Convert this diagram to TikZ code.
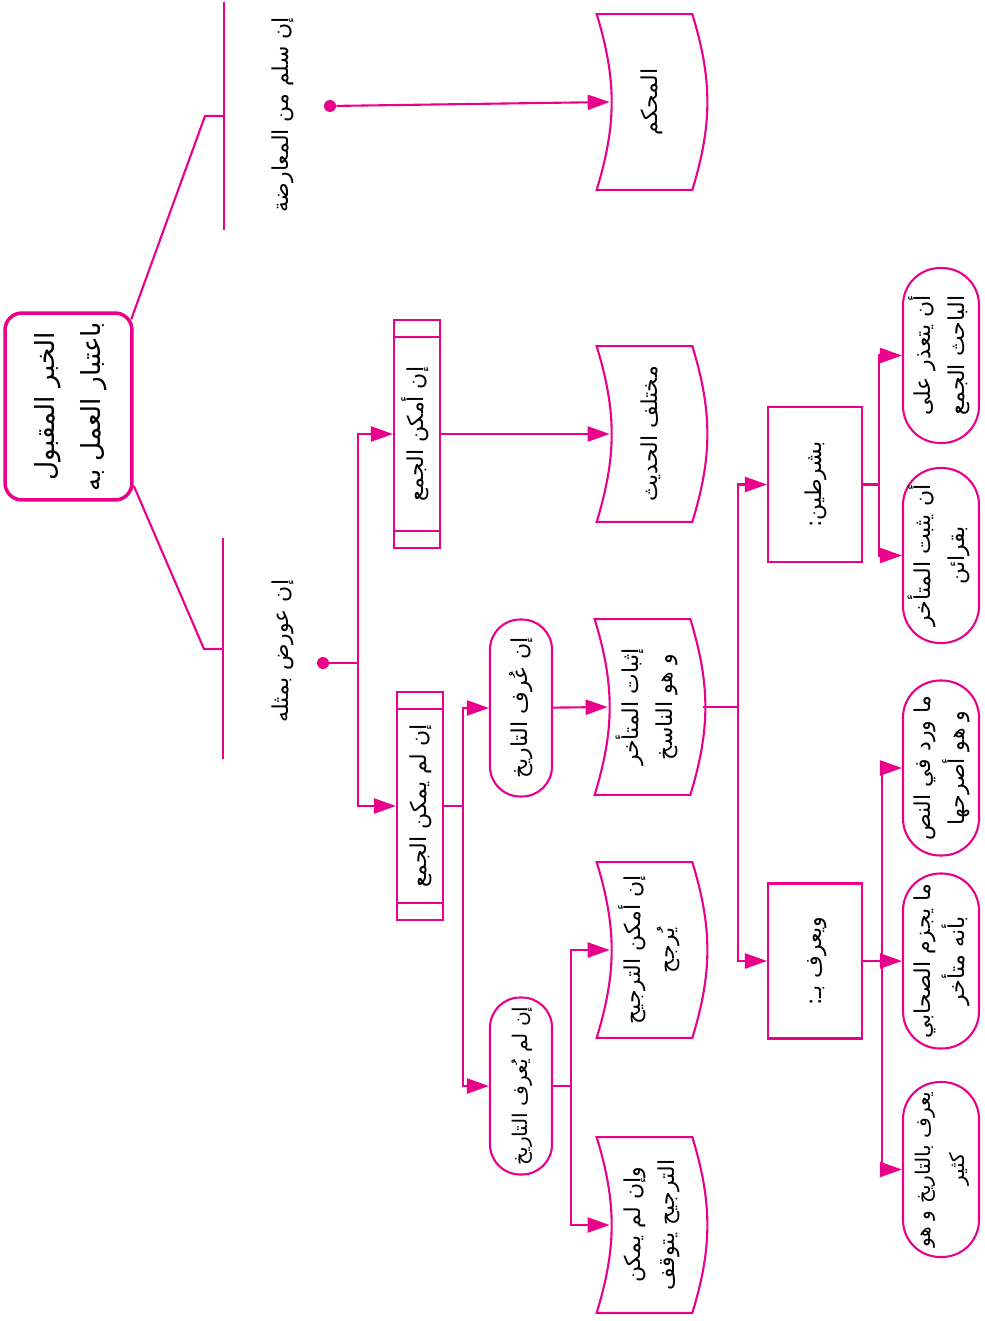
\documentclass[tikz,border=0pt]{standalone}
\usepackage{fontspec}
\usepackage{graphicx}
\newfontfamily\arabicfont[Script=Arabic]{DejaVu Sans}
\TeXXeTstate=1
\usetikzlibrary{arrows.meta}
\definecolor{mag}{RGB}{233,0,139}
\newcommand{\rl}[1]{\beginR #1\endR}
\newcommand{\vtext}[1]{\rotatebox{90}{\begin{tabular}{@{}c@{}}#1\end{tabular}}}
\tikzset{
	conn/.style={draw=mag, line width=1.2pt},
	rootbox/.style={draw=mag, line width=2pt, rounded corners=0.34cm, minimum width=2.54cm, minimum height=3.74cm, inner sep=0pt, font=\arabicfont\fontsize{15}{26}\selectfont},
	procbox/.style={draw=mag, line width=1.2pt, minimum width=0.92cm, minimum height=4.56cm, inner sep=0pt},
	tapebox/.style={minimum width=1.9cm, minimum height=3.5cm, inner sep=0pt},
	pill/.style={draw=mag, line width=1.2pt, minimum width=1.24cm, minimum height=3.54cm, rounded corners=0.6cm, inner sep=0pt},
	widepill/.style={draw=mag, line width=1.2pt, minimum width=1.52cm, minimum height=3.5cm, rounded corners=0.74cm, inner sep=0pt},
	plainbox/.style={draw=mag, line width=1.2pt, minimum width=1.88cm, minimum height=3.1cm, inner sep=0pt},
	joint/.style={circle, fill=mag, inner sep=0pt, minimum size=0.24cm},
	snug/.style={font=\arabicfont\fontsize{11.5}{19}\selectfont}
}
\begin{document}
\begin{tikzpicture}[x=0.02cm, y=-0.02cm, >={Triangle[length=0.44cm, width=0.3cm]}, every node/.style={font=\arabicfont\fontsize{12.5}{19}\selectfont}]
	\useasboundingbox (0,0) rectangle (984,1321);

	% --- root ---
	\node[rootbox] (root) at (68.5,406.5) {\vtext{\rl{الخبر المقبول}\\\rl{باعتبار العمل به}}};

	\coordinate (kneeA) at (205,116);
	\coordinate (barA) at (224,116);
	\coordinate (barAn) at (224,2);
	\coordinate (barAs) at (224,230);
	\coordinate (kneeB) at (204,649);
	\coordinate (barB) at (223,649);
	\coordinate (barBn) at (223,538);
	\coordinate (barBs) at (223,759);

	\draw[conn] ([shift={(-0.05cm,-0.16cm)}]root.north east) -- (kneeA) -- (barA);
	\draw[conn] (barAn) -- (barAs);
	\draw[conn] ([yshift=0.32cm]root.south east) -- (kneeB) -- (barB);
	\draw[conn] (barBn) -- (barBs);

	% --- first branch ---
	\node (safe) at (282,115) {\vtext{\rl{إن سلم من المعارضة}}};
	\node[joint] (dotA) at (330,106) {};
	\node[tapebox] (mhk) at (651,102) {\vtext{\rl{المحكم}}};
	\draw[conn,->] (dotA) -- ([xshift=0.13cm]mhk.west);

	% --- second branch ---
	\node (opp) at (282,651) {\vtext{\rl{إن عورض بمثله}}};
	\node[joint] (dotB) at (323,663) {};
	\coordinate (busA) at (358,663);
	\node[procbox] (mj) at (417,434) {\vtext{\rl{إن أمكن الجمع}}};
	\node[procbox] (nmj) at (420,806) {\vtext{\rl{إن لم يمكن الجمع}}};
	\draw[conn] (dotB) -- (busA);
	\draw[conn,->] (busA) |- (mj);
	\draw[conn,->] (busA) |- (nmj);

	\node[tapebox] (mkh) at (651,434) {\vtext{\rl{مختلف الحديث}}};
	\draw[conn,->] (mj) -- ([xshift=0.13cm]mkh.west);

	\node[pill] (arf) at (521,708) {\vtext{\rl{إن عُرف التاريخ}}};
	\node[pill, snug] (narf) at (521,1086) {\vtext{\rl{إن لم يُعرف التاريخ}}};
	\coordinate (busB) at (463,806);
	\draw[conn] (nmj) -- (busB);
	\draw[conn,->] (busB) |- (arf);
	\draw[conn,->] (busB) |- (narf);

	\node[tapebox] (ithbat) at (649,707) {\vtext{\rl{إثبات المتأخر}\\\rl{و هو الناسخ}}};
	\draw[conn,->] (arf) -- ([xshift=0.13cm]ithbat.west);

	\node[tapebox] (trj) at (651,950) {\vtext{\rl{إن أمكن الترجيح}\\\rl{يُرجح}}};
	\node[tapebox] (halt) at (651,1225) {\vtext{\rl{وإن لم يمكن}\\\rl{الترجيح يتوقف}}};
	\coordinate (busC) at (571,1086);
	\draw[conn] (narf) -- (busC);
	\draw[conn,->] (busC) |- ([xshift=0.13cm]trj.west);
	\draw[conn,->] (busC) |- ([xshift=0.13cm]halt.west);

	% --- conditions ---
	\node[plainbox] (shart) at (815,484.5) {\vtext{\rl{بشرطين:}}};
	\node[plainbox] (yuraf) at (815,961) {\vtext{\rl{ويعرف بـ:}}};
	\coordinate (busD) at (738,707);
	\draw[conn] ([xshift=0.13cm]ithbat.east) -- (busD);
	\draw[conn,->] (busD) |- (shart);
	\draw[conn,->] (busD) |- (yuraf);

	\node[widepill] (cA) at (941,355.5) {\vtext{\rl{أن يتعذر على}\\\rl{الباحث الجمع}}};
	\node[widepill] (cB) at (941,555.5) {\vtext{\rl{أن يثبت المتأخر}\\\rl{بقرائن}}};
	\coordinate (busE) at (879,484.5);
	\draw[conn] (shart) -- (busE);
	\draw[conn,->] (busE) |- (cA);
	\draw[conn,->] (busE) |- (cB);

	\node[widepill] (wA) at (941,768) {\vtext{\rl{ما ورد في النص}\\\rl{و هو أصرحها}}};
	\node[widepill] (wB) at (941,961) {\vtext{\rl{ما يجزم الصحابي}\\\rl{بأنه متأخر}}};
	\node[widepill, snug] (wC) at (941,1169.5) {\vtext{\rl{يعرف بالتاريخ و هو}\\\rl{كثير}}};
	\coordinate (busF) at (882,961);
	\draw[conn] (yuraf) -- (busF);
	\draw[conn,->] (busF) |- (wA);
	\draw[conn,->] (busF) -- (wB);
	\draw[conn,->] (busF) |- (wC);

	% --- outlines ---
	\foreach \n in {mj, nmj} {
		\draw[conn] ([yshift=-0.36cm]\n.north west) -- ([yshift=-0.36cm]\n.north east);
		\draw[conn] ([yshift=0.36cm]\n.south west) -- ([yshift=0.36cm]\n.south east);
	}
	\foreach \n in {mhk, mkh, ithbat, trj, halt} {
		\draw[conn] ([xshift=-0.13cm]\n.north west) -- ([xshift=-0.13cm]\n.north east) to[bend left=17] ([xshift=-0.13cm]\n.south east) -- ([xshift=-0.13cm]\n.south west) to[bend right=17] cycle;
	}
\end{tikzpicture}
\end{document}
